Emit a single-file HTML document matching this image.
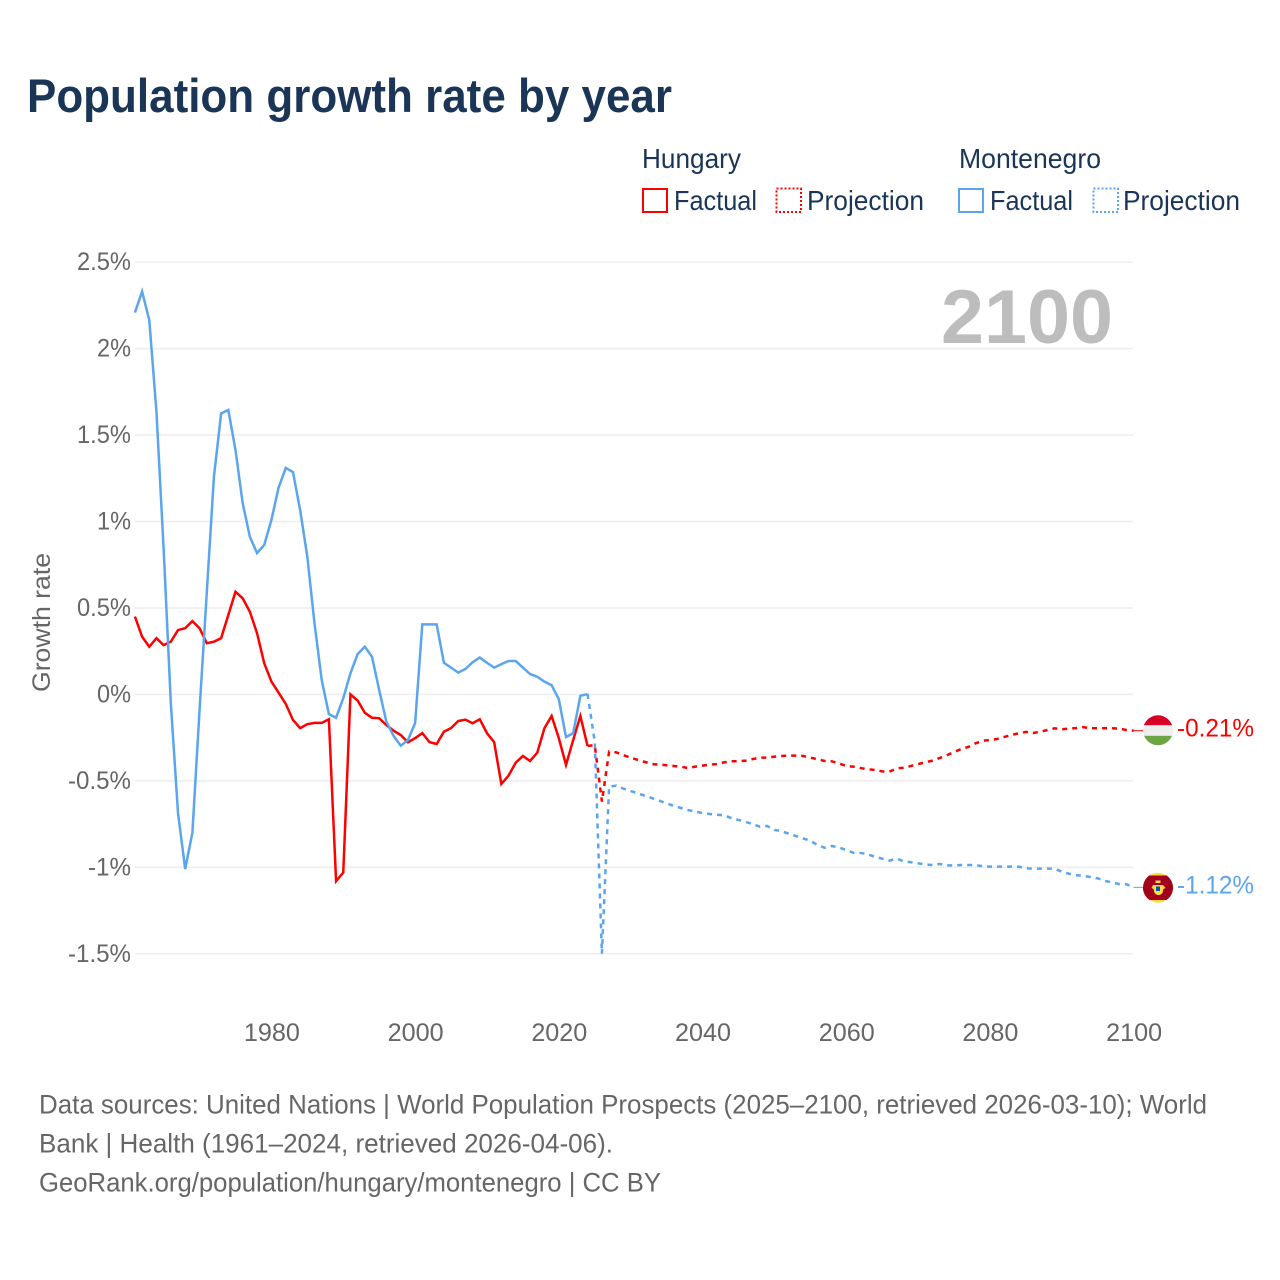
<!DOCTYPE html>
<html lang="en">
<head>
<meta charset="utf-8">
<title>Population growth rate by year</title>
<style>
html,body{margin:0;padding:0;background:#fff;}
svg{display:block;}
text{font-family:"Liberation Sans",sans-serif;}
</style>
</head>
<body>
<svg id="chart" xmlns="http://www.w3.org/2000/svg" width="1280" height="1280" viewBox="0 0 1280 1280">
  <defs>
    <clipPath id="plot-clip"><rect x="130" y="240" width="1004" height="714"></rect></clipPath>
    <clipPath id="hu-clip"><circle cx="1158" cy="730.3" r="15"></circle></clipPath>
    <clipPath id="me-clip"><circle cx="1158" cy="887.7" r="15"></circle></clipPath>
  </defs>
  <rect x="0" y="0" width="1280" height="1280" fill="#ffffff"></rect>
  <text x="27" y="112" font-size="47" font-weight="700" fill="#1a3556" textLength="645" lengthAdjust="spacingAndGlyphs">Population growth rate by year</text>

  <g font-size="27.5" fill="#1a3556">
    <text x="642" y="168" textLength="99" lengthAdjust="spacingAndGlyphs">Hungary</text>
    <text x="959" y="168" textLength="142" lengthAdjust="spacingAndGlyphs">Montenegro</text>
    <rect x="643" y="189" width="24" height="23" fill="none" stroke="#ff0000" stroke-width="2"></rect>
    <text x="674" y="210" textLength="83" lengthAdjust="spacingAndGlyphs">Factual</text>
    <rect x="776.5" y="188.500" width="24.500" height="23.500" fill="none" stroke="#ff0000" stroke-width="2" stroke-dasharray="2 2"></rect>
    <text x="807" y="210" textLength="117" lengthAdjust="spacingAndGlyphs">Projection</text>
    <rect x="959" y="189" width="24" height="23" fill="none" stroke="#5aa5ee" stroke-width="2"></rect>
    <text x="990" y="210" textLength="83" lengthAdjust="spacingAndGlyphs">Factual</text>
    <rect x="1093.500" y="188.500" width="24.500" height="23.500" fill="none" stroke="#5aa5ee" stroke-width="2" stroke-dasharray="2 2"></rect>
    <text x="1123" y="210" textLength="117" lengthAdjust="spacingAndGlyphs">Projection</text>
  </g>

  <g id="grid"></g>
  <g id="y-axis"></g>
  <g id="x-axis"></g>
  <text transform="translate(50 622.5) rotate(-90)" text-anchor="middle" font-size="25" fill="#666666" textLength="139" lengthAdjust="spacingAndGlyphs">Growth rate</text>
  <text x="1113" y="343" text-anchor="end" font-size="76" font-weight="700" fill="#bdbdbd" textLength="172" lengthAdjust="spacingAndGlyphs">2100</text>

  <g id="series" clip-path="url(#plot-clip)"></g>
  <g id="end-markers"></g>

  <g clip-path="url(#hu-clip)">
    <rect x="1143" y="715" width="30" height="10.300" fill="#d80027"></rect>
    <rect x="1143" y="725.300" width="30" height="10.500" fill="#eeeeee"></rect>
    <rect x="1143" y="735.800" width="30" height="10" fill="#6da544"></rect>
  </g>
  <g clip-path="url(#me-clip)">
    <rect x="1143" y="872" width="30" height="31" fill="#ffda44"></rect>
    <rect x="1143" y="875.500" width="30" height="24.500" fill="#a2001d"></rect>
    <path d="M1155.500 880.500h5v2.500h-5zM1153 885h10l2.500 3-2 1-1 4-2.500 2h-3l-2.500-2-1-4-2-1z" fill="#ffda44"></path>
    <rect x="1156" y="886.500" width="4" height="4.500" fill="#0052b4"></rect>
  </g>

  <g font-size="26.500" fill="#666666">
    <text x="39" y="1113.500" textLength="1168" lengthAdjust="spacingAndGlyphs">Data sources: United Nations | World Population Prospects (2025–2100, retrieved 2026-03-10); World</text>
    <text x="39" y="1152.500" textLength="574" lengthAdjust="spacingAndGlyphs">Bank | Health (1961–2024, retrieved 2026-04-06).</text>
    <text x="39" y="1191.500" textLength="622" lengthAdjust="spacingAndGlyphs">GeoRank.org/population/hungary/montenegro | CC BY</text>
  </g>
</svg>
<script>
const factualStartYear = 1961;
const projectionStartYear = 2024;

const hungaryFactual = [
  0.45, 0.334, 0.276, 0.325, 0.285, 0.305, 0.372, 0.383, 0.424, 0.383,
  0.296, 0.305, 0.325, 0.459, 0.594, 0.556, 0.478, 0.354, 0.18, 0.074,
  0.01, -0.055, -0.148, -0.195, -0.172, -0.165, -0.165, -0.144, -1.08, -1.03,
  0.0, -0.036, -0.106, -0.135, -0.138, -0.177, -0.21, -0.235, -0.277, -0.253,
  -0.224, -0.276, -0.287, -0.216, -0.195, -0.154, -0.146, -0.167, -0.144, -0.224,
  -0.276, -0.518, -0.47, -0.395, -0.356, -0.385, -0.337, -0.195, -0.125, -0.253,
  -0.408, -0.264, -0.125, -0.298
];
const montenegroFactual = [
  2.208, 2.33, 2.165, 1.635, 0.84, -0.05, -0.686, -1.01, -0.80, -0.09,
  0.586, 1.26, 1.625, 1.645, 1.413, 1.106, 0.912, 0.817, 0.864, 1.009,
  1.196, 1.31, 1.286, 1.066, 0.795, 0.41, 0.083, -0.114, -0.135, -0.022,
  0.122, 0.233, 0.276, 0.218, 0.025, -0.158, -0.24, -0.297, -0.264, -0.166,
  0.405, 0.405, 0.405, 0.183, 0.155, 0.126, 0.147, 0.186, 0.213, 0.183,
  0.155, 0.175, 0.193, 0.193, 0.155, 0.118, 0.102, 0.074, 0.053, -0.028,
  -0.247, -0.224, -0.008, 0.002
];
const hungaryProjection = [
  -0.298, -0.293, -0.62, -0.331, -0.335, -0.352, -0.366, -0.379, -0.391, -0.403,
  -0.406, -0.41, -0.414, -0.418, -0.426, -0.418, -0.412, -0.406, -0.403, -0.393,
  -0.387, -0.387, -0.383, -0.374, -0.366, -0.366, -0.36, -0.356, -0.354, -0.354,
  -0.356, -0.366, -0.375, -0.385, -0.387, -0.399, -0.414, -0.418, -0.426, -0.433,
  -0.437, -0.445, -0.447, -0.428, -0.424, -0.414, -0.403, -0.393, -0.383, -0.368,
  -0.352, -0.333, -0.316, -0.304, -0.283, -0.268, -0.264, -0.258, -0.246, -0.235,
  -0.225, -0.217, -0.223, -0.216, -0.206, -0.196, -0.202, -0.198, -0.195, -0.189,
  -0.196, -0.196, -0.196, -0.196, -0.198, -0.206, -0.21
];
const montenegroProjection = [
  0.002, -0.274, -1.5, -0.534, -0.528, -0.545, -0.559, -0.572, -0.586, -0.6,
  -0.615, -0.63, -0.645, -0.657, -0.669, -0.678, -0.686, -0.692, -0.696, -0.699,
  -0.715, -0.726, -0.738, -0.75, -0.765, -0.761, -0.784, -0.79, -0.806, -0.819,
  -0.833, -0.846, -0.871, -0.887, -0.877, -0.885, -0.9, -0.916, -0.917, -0.925,
  -0.939, -0.95, -0.962, -0.95, -0.964, -0.971, -0.977, -0.983, -0.987, -0.981,
  -0.989, -0.989, -0.987, -0.987, -0.987, -0.994, -0.996, -0.996, -0.996, -0.996,
  -0.996, -1.006, -1.008, -1.008, -1.008, -1.008, -1.025, -1.037, -1.045, -1.05,
  -1.056, -1.064, -1.079, -1.087, -1.097, -1.098, -1.116
];
const yTickValues = [2.5, 2, 1.5, 1, 0.5, 0, -0.5, -1, -1.5];
const yTickLabels = ["2.5%", "2%", "1.5%", "1%", "0.5%", "0%", "-0.5%", "-1%", "-1.5%"];
const xTickValues = [1980, 2000, 2020, 2040, 2060, 2080, 2100];
const xTickLabels = ["1980", "2000", "2020", "2040", "2060", "2080", "2100"];
const hungaryEndLabel = "-0.21%";
const montenegroEndLabel = "-1.12%";

const SVG_NS = "http://www.w3.org/2000/svg";
function xScale(year) { return 134.9 + (year - 1961) * 7.185; }
function yScale(value) { return 694.4 - value * 172.9; }
function labelWidth(s) {
  let w = 0;
  for (const c of s) {
    if (c === ".") w += 6;
    else if (c === "%") w += 20;
    else if (c === "-") w += 9;
    else w += 14;
  }
  return w;
}
function svgEl(parentId, tag, attrs) {
  const el = document.createElementNS(SVG_NS, tag);
  for (const k in attrs) el.setAttribute(k, attrs[k]);
  document.getElementById(parentId).appendChild(el);
  return el;
}
function linePoints(startYear, values) {
  return values.map(function (v, i) {
    return xScale(startYear + i).toFixed(2) + "," + yScale(v).toFixed(2);
  }).join(" ");
}

yTickValues.forEach(function (v, i) {
  const y = yScale(v);
  const grid = svgEl("grid", "line", { x1: 135, x2: 1133, y1: y, y2: y, stroke: "#eeeeee", "stroke-width": 1.5 });
  
  
  const label = svgEl("y-axis", "text", {
    x: 131, y: y + 8, "text-anchor": "end", "font-size": 25, fill: "#666666",
    textLength: labelWidth(yTickLabels[i]), lengthAdjust: "spacingAndGlyphs"
  });
  
  
  label.textContent = yTickLabels[i];
});

xTickValues.forEach(function (year, i) {
  const label = svgEl("x-axis", "text", {
    x: xScale(year) + 0.5, y: 1041, "text-anchor": "middle", "font-size": 25, fill: "#666666",
    textLength: labelWidth(xTickLabels[i]), lengthAdjust: "spacingAndGlyphs"
  });
  
  
  label.textContent = xTickLabels[i];
});

const hungaryFactualLine = svgEl("series", "polyline", {
  points: linePoints(factualStartYear, hungaryFactual), fill: "none", stroke: "#ff0000", "stroke-width": 2.5
});



const hungaryProjectionLine = svgEl("series", "polyline", {
  points: linePoints(projectionStartYear, hungaryProjection), fill: "none", stroke: "#ff0000", "stroke-width": 2.5, "stroke-dasharray": "5 5"
});



const montenegroFactualLine = svgEl("series", "polyline", {
  points: linePoints(factualStartYear, montenegroFactual), fill: "none", stroke: "#5aa5ee", "stroke-width": 2.5
});



const montenegroProjectionLine = svgEl("series", "polyline", {
  points: linePoints(projectionStartYear, montenegroProjection), fill: "none", stroke: "#5aa5ee", "stroke-width": 2.5, "stroke-dasharray": "5 5"
});



const hungaryLastY = yScale(hungaryProjection[hungaryProjection.length - 1]);
const montenegroLastY = yScale(montenegroProjection[montenegroProjection.length - 1]);

const hungaryConnector = svgEl("end-markers", "line", { x1: 1133.5, x2: 1143, y1: hungaryLastY, y2: hungaryLastY, stroke: "#ff0000", "stroke-width": 1 });



const montenegroConnector = svgEl("end-markers", "line", { x1: 1133.5, x2: 1143, y1: montenegroLastY, y2: montenegroLastY, stroke: "#5aa5ee", "stroke-width": 1 });



const hungaryValue = svgEl("end-markers", "text", {
  x: 1177, y: hungaryLastY + 6, "font-size": 25, fill: "#ff0000",
  textLength: labelWidth(hungaryEndLabel), lengthAdjust: "spacingAndGlyphs"
});


hungaryValue.textContent = hungaryEndLabel;

const montenegroValue = svgEl("end-markers", "text", {
  x: 1177, y: montenegroLastY + 6, "font-size": 25, fill: "#5aa5ee",
  textLength: labelWidth(montenegroEndLabel), lengthAdjust: "spacingAndGlyphs"
});


montenegroValue.textContent = montenegroEndLabel;
</script>
</body>
</html>
